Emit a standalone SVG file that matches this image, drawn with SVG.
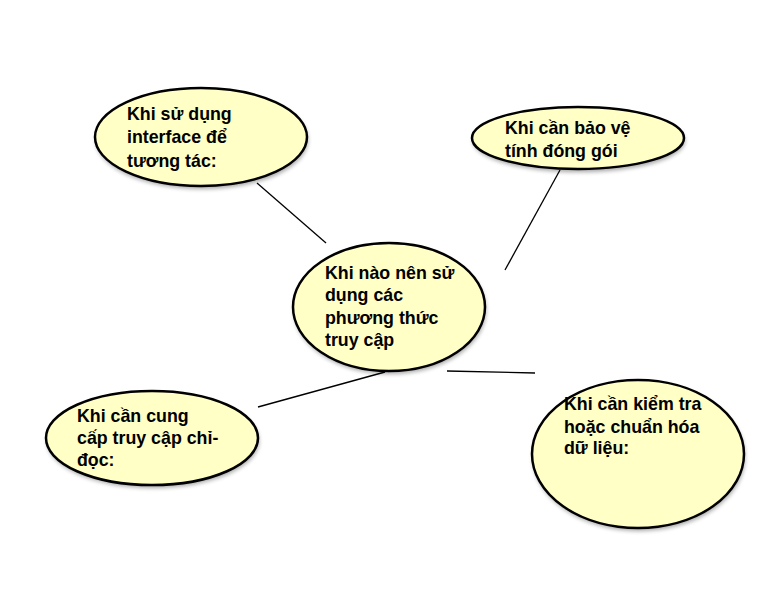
<svg xmlns="http://www.w3.org/2000/svg" width="766" height="593" viewBox="0 0 766 593">
<defs>
<filter id="sh" x="-10%" y="-10%" width="120%" height="130%">
<feGaussianBlur stdDeviation="2"/>
</filter>
</defs>
<style>
.n{fill:#FFFFC6;stroke:#000;stroke-width:2.5}
.s{fill:#000;opacity:0.35;filter:url(#sh)}
.t{font-family:"Liberation Sans",Arial,sans-serif;font-weight:bold;font-size:17.8px;fill:#000}
.c{stroke:#000;stroke-width:1.3;fill:none}
</style>
<rect width="766" height="593" fill="#fff"/>
<g id="connectors">
<line class="c" x1="257" y1="183" x2="326" y2="243"/>
<line class="c" x1="560" y1="170" x2="505" y2="270"/>
<line class="c" x1="258" y1="407" x2="385" y2="372"/>
<line class="c" x1="447" y1="371" x2="535" y2="373"/>
</g>
<g id="n1">
<ellipse class="s" cx="202" cy="140" rx="106" ry="49"/>
<ellipse class="n" cx="201" cy="137" rx="106" ry="49"/>
<text class="t" x="127" y="120">Khi sử dụng</text>
<text class="t" x="127" y="143">interface để</text>
<text class="t" x="127" y="167">tương tác:</text>
</g>
<g id="n2">
<ellipse class="s" cx="579" cy="141" rx="106" ry="31"/>
<ellipse class="n" cx="578" cy="138" rx="106" ry="31"/>
<text class="t" x="505" y="134">Khi cần bảo vệ</text>
<text class="t" x="505" y="157">tính đóng gói</text>
</g>
<g id="center">
<ellipse class="s" cx="390" cy="310" rx="96" ry="64"/>
<ellipse class="n" cx="389" cy="307" rx="96" ry="64"/>
<text class="t" x="325" y="279">Khi nào nên sử</text>
<text class="t" x="325" y="301">dụng các</text>
<text class="t" x="325" y="324">phương thức</text>
<text class="t" x="325" y="346">truy cập</text>
</g>
<g id="n3">
<ellipse class="s" cx="153" cy="441" rx="106" ry="47"/>
<ellipse class="n" cx="152" cy="438" rx="106" ry="47"/>
<text class="t" x="77" y="422">Khi cần cung</text>
<text class="t" x="77" y="444">cấp truy cập chỉ-</text>
<text class="t" x="77" y="466">đọc:</text>
</g>
<g id="n4">
<ellipse class="s" cx="639" cy="457" rx="106" ry="74"/>
<ellipse class="n" cx="638" cy="454" rx="106" ry="74"/>
<text class="t" x="564" y="410">Khi cần kiểm tra</text>
<text class="t" x="564" y="433">hoặc chuẩn hóa</text>
<text class="t" x="564" y="454">dữ liệu:</text>
</g>
</svg>
